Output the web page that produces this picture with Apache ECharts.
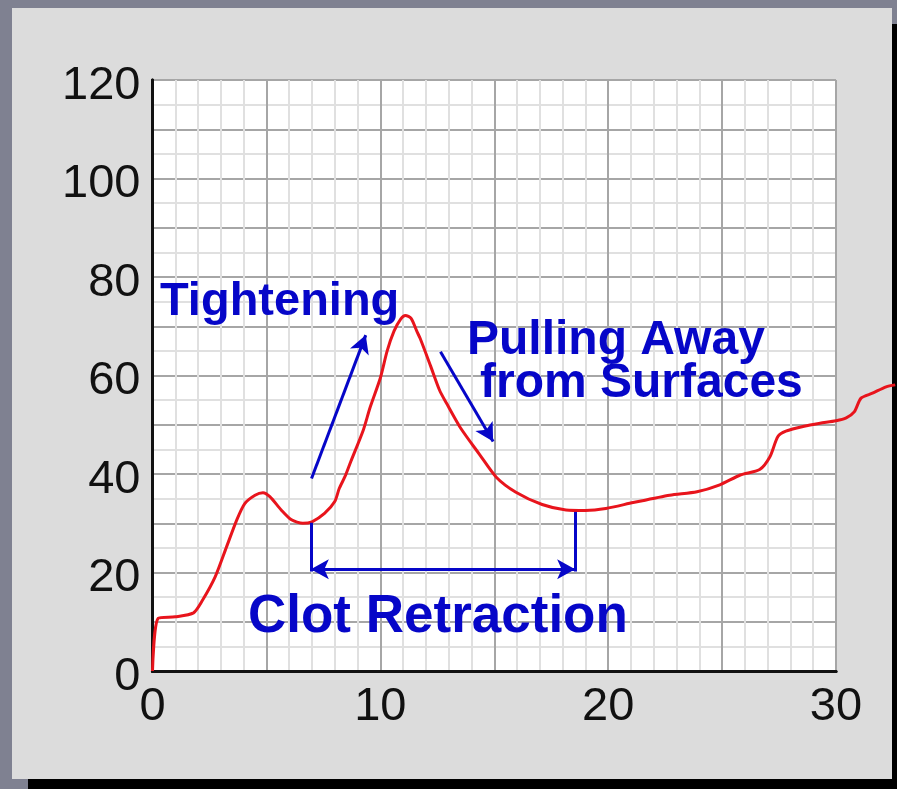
<!DOCTYPE html>
<html>
<head>
<meta charset="utf-8">
<script src="https://cdn.jsdelivr.net/npm/echarts@6/dist/echarts.min.js"></script>
<style>
  html, body { margin: 0; padding: 0; }
  body { width: 897px; height: 789px; background: #7f8191; position: relative; overflow: hidden; }
  .shadow-r { position: absolute; left: 892px; top: 24px; width: 5px; height: 765px; background: #000; }
  .shadow-b { position: absolute; left: 28px; top: 779px; width: 869px; height: 10px; background: #000; }
  .panel { position: absolute; left: 12px; top: 8px; width: 880px; height: 771px; background: #dcdcdc; }
  #myChart { position: absolute; left: 0; top: 0; width: 897px; height: 789px; }
</style>
</head>
<body>
<div class="shadow-r"></div>
<div class="shadow-b"></div>
<div class="panel"></div>
<div id="myChart"></div>
<script>
// curve (time, value)
var timeVals = [0, 0.25, 1.0, 1.8, 2.2, 2.75, 3.25, 3.7, 4.05, 4.5, 4.85, 5.15, 5.65, 6.1, 6.6, 7.0, 7.55, 8.0, 8.2, 8.45,
  8.7, 9.25, 9.55, 10.0, 10.3, 10.6, 10.9, 11.1, 11.35, 11.6, 11.75, 12.2, 12.6, 12.9, 13.5, 14.35, 15.1, 15.95, 17.1, 18.15,
  19.0, 19.9, 21.1, 22.7, 23.9, 24.9, 25.8, 26.65, 27.1, 27.45, 27.8, 28.6, 29.3, 30.0, 30.45, 30.8, 31.1, 31.6, 32.2, 32.6];
var curveVals = [0, 10.7, 11.0, 11.8, 14.4, 19.1, 25.2, 30.7, 34.0, 35.7, 36.2, 35.4, 32.7, 30.7, 30.0, 30.3, 32.0, 34.4, 37.1, 39.5,
  42.5, 48.9, 53.5, 59.5, 65.0, 69.0, 71.5, 72.2, 71.6, 69.0, 67.5, 62.0, 57.0, 54.4, 49.5, 44.0, 39.3, 36.3, 33.8, 32.7,
  32.6, 33.0, 34.2, 35.7, 36.4, 37.8, 39.8, 40.9, 43.5, 47.6, 48.7, 49.7, 50.3, 50.8, 51.4, 52.6, 55.4, 56.4, 57.7, 58.1];

// annotation arrows in data units: [x1, y1, x2, y2]
var tightenArrow = [6.98, 39.1, 9.36, 68.2];
var pullArrow = [12.64, 64.8, 14.95, 46.6];
var clotLeft = [6.95, 30.1, 6.95, 20.2];
var clotRight = [18.55, 32.3, 18.55, 20.2];
var clotSpan = [6.95, 20.65, 18.55, 20.65];

var xTicks = [0, 10, 20, 30];
var yTicks = [0, 20, 40, 60, 80, 100, 120];

function drawLine() {
  var chart = echarts.init(document.getElementById("myChart"));
  var pts = timeVals.map(function (t, i) { return [t, curveVals[i]]; });
  var blue = "#0606c8";
  var labelFont = "Liberation Sans, Arial, sans-serif";

  // plot box and a wider box for the curve, which runs on past 30 into the frame
  var plotLeft = 152.5, plotRight = 836, totalW = 897;
  var xMax = 30, xMaxWide = xMax * (totalW - plotLeft) / (plotRight - plotLeft);

  function seg(a, startSym, endSym) {
    return [
      { coord: [a[0], a[1]], symbol: startSym },
      { coord: [a[2], a[3]], symbol: endSym }
    ];
  }
  var hidden = {
    axisLine: { show: false }, axisTick: { show: false },
    axisLabel: { show: false }, splitLine: { show: false }
  };

  chart.setOption({
    backgroundColor: "transparent",
    animation: false,
    grid: [
      { left: plotLeft, top: 80, right: totalW - plotRight, bottom: 118, show: true, backgroundColor: "#fff", borderWidth: 0 },
      { left: plotLeft, top: 80, right: 0, bottom: 118 }
    ],
    xAxis: [
      {
        type: "value", gridIndex: 0, min: 0, max: xMax, interval: 5,
        axisLine: { show: true, onZero: false, lineStyle: { color: "#111", width: 3 } },
        axisTick: { show: false },
        axisLabel: {
          margin: 13, fontSize: 47, color: "#111", fontFamily: labelFont,
          formatter: function (v) { return xTicks.indexOf(v) >= 0 ? String(v) : ""; }
        },
        splitLine: { show: true, lineStyle: { color: "#a6a6a6", width: 2 } },
        minorTick: { show: false, splitNumber: 5 },
        minorSplitLine: { show: true, lineStyle: { color: "#e0e0e0", width: 2 } }
      },
      {
        type: "value", gridIndex: 0, min: 0, max: xMax, position: "top",
        axisLine: { show: true, lineStyle: { color: "#111", width: 3 } },
        axisTick: { show: false }, axisLabel: { show: false }, splitLine: { show: false }
      },
      Object.assign({ type: "value", gridIndex: 1, min: 0, max: xMaxWide }, hidden)
    ],
    yAxis: [
      {
        type: "value", gridIndex: 0, min: 0, max: 120, interval: 10,
        axisLine: { show: true, onZero: false, lineStyle: { color: "#111", width: 3 } },
        axisTick: { show: false },
        axisLabel: {
          margin: 12, color: "#111",
          formatter: function (v) { return yTicks.indexOf(v) >= 0 ? "{n|" + v + "}" : ""; },
          rich: {
            n: { fontSize: 47, color: "#111", fontFamily: labelFont, padding: [12, 0, 0, 0] }
          }
        },
        splitLine: { show: true, lineStyle: { color: "#a6a6a6", width: 2 } },
        minorTick: { show: false, splitNumber: 2 },
        minorSplitLine: { show: true, lineStyle: { color: "#e0e0e0", width: 2 } }
      },
      {
        type: "value", gridIndex: 0, min: 0, max: 120, position: "right",
        axisLine: { show: true, lineStyle: { color: "#111", width: 3 } },
        axisTick: { show: false }, axisLabel: { show: false }, splitLine: { show: false }
      },
      Object.assign({ type: "value", gridIndex: 1, min: 0, max: 120 }, hidden)
    ],
    series: [
      {
        type: "line",
        xAxisIndex: 2,
        yAxisIndex: 2,
        data: pts,
        clip: false,
        smooth: 0.25,
        showSymbol: false,
        lineStyle: { color: "#e8141c", width: 3 },
        z: 3,
        markLine: {
          silent: true,
          symbolSize: [15, 18],
          label: { show: false },
          lineStyle: { color: blue, width: 3, type: "solid" },
          data: [
            seg(tightenArrow, "none", "arrow"),
            seg(pullArrow, "none", "arrow"),
            seg(clotLeft, "none", "none"),
            seg(clotRight, "none", "none"),
            seg(clotSpan, "arrow", "arrow")
          ]
        }
      }
    ],
    graphic: [
      { type: "text", left: 160, top: 279, z: 10,
        style: { text: "Tightening", fill: blue, font: "bold 47px Liberation Sans, Arial, sans-serif" } },
      { type: "text", left: 467, top: 317, z: 10,
        style: { text: "Pulling Away", fill: blue, font: "bold 48px Liberation Sans, Arial, sans-serif" } },
      { type: "text", left: 480, top: 360, z: 10,
        style: { text: "from Surfaces", fill: blue, font: "bold 48px Liberation Sans, Arial, sans-serif" } },
      { type: "text", left: 248, top: 591, z: 10,
        style: { text: "Clot Retraction", fill: blue, font: "bold 53px Liberation Sans, Arial, sans-serif" } }
    ]
  });
}

drawLine();
</script>
</body>
</html>
